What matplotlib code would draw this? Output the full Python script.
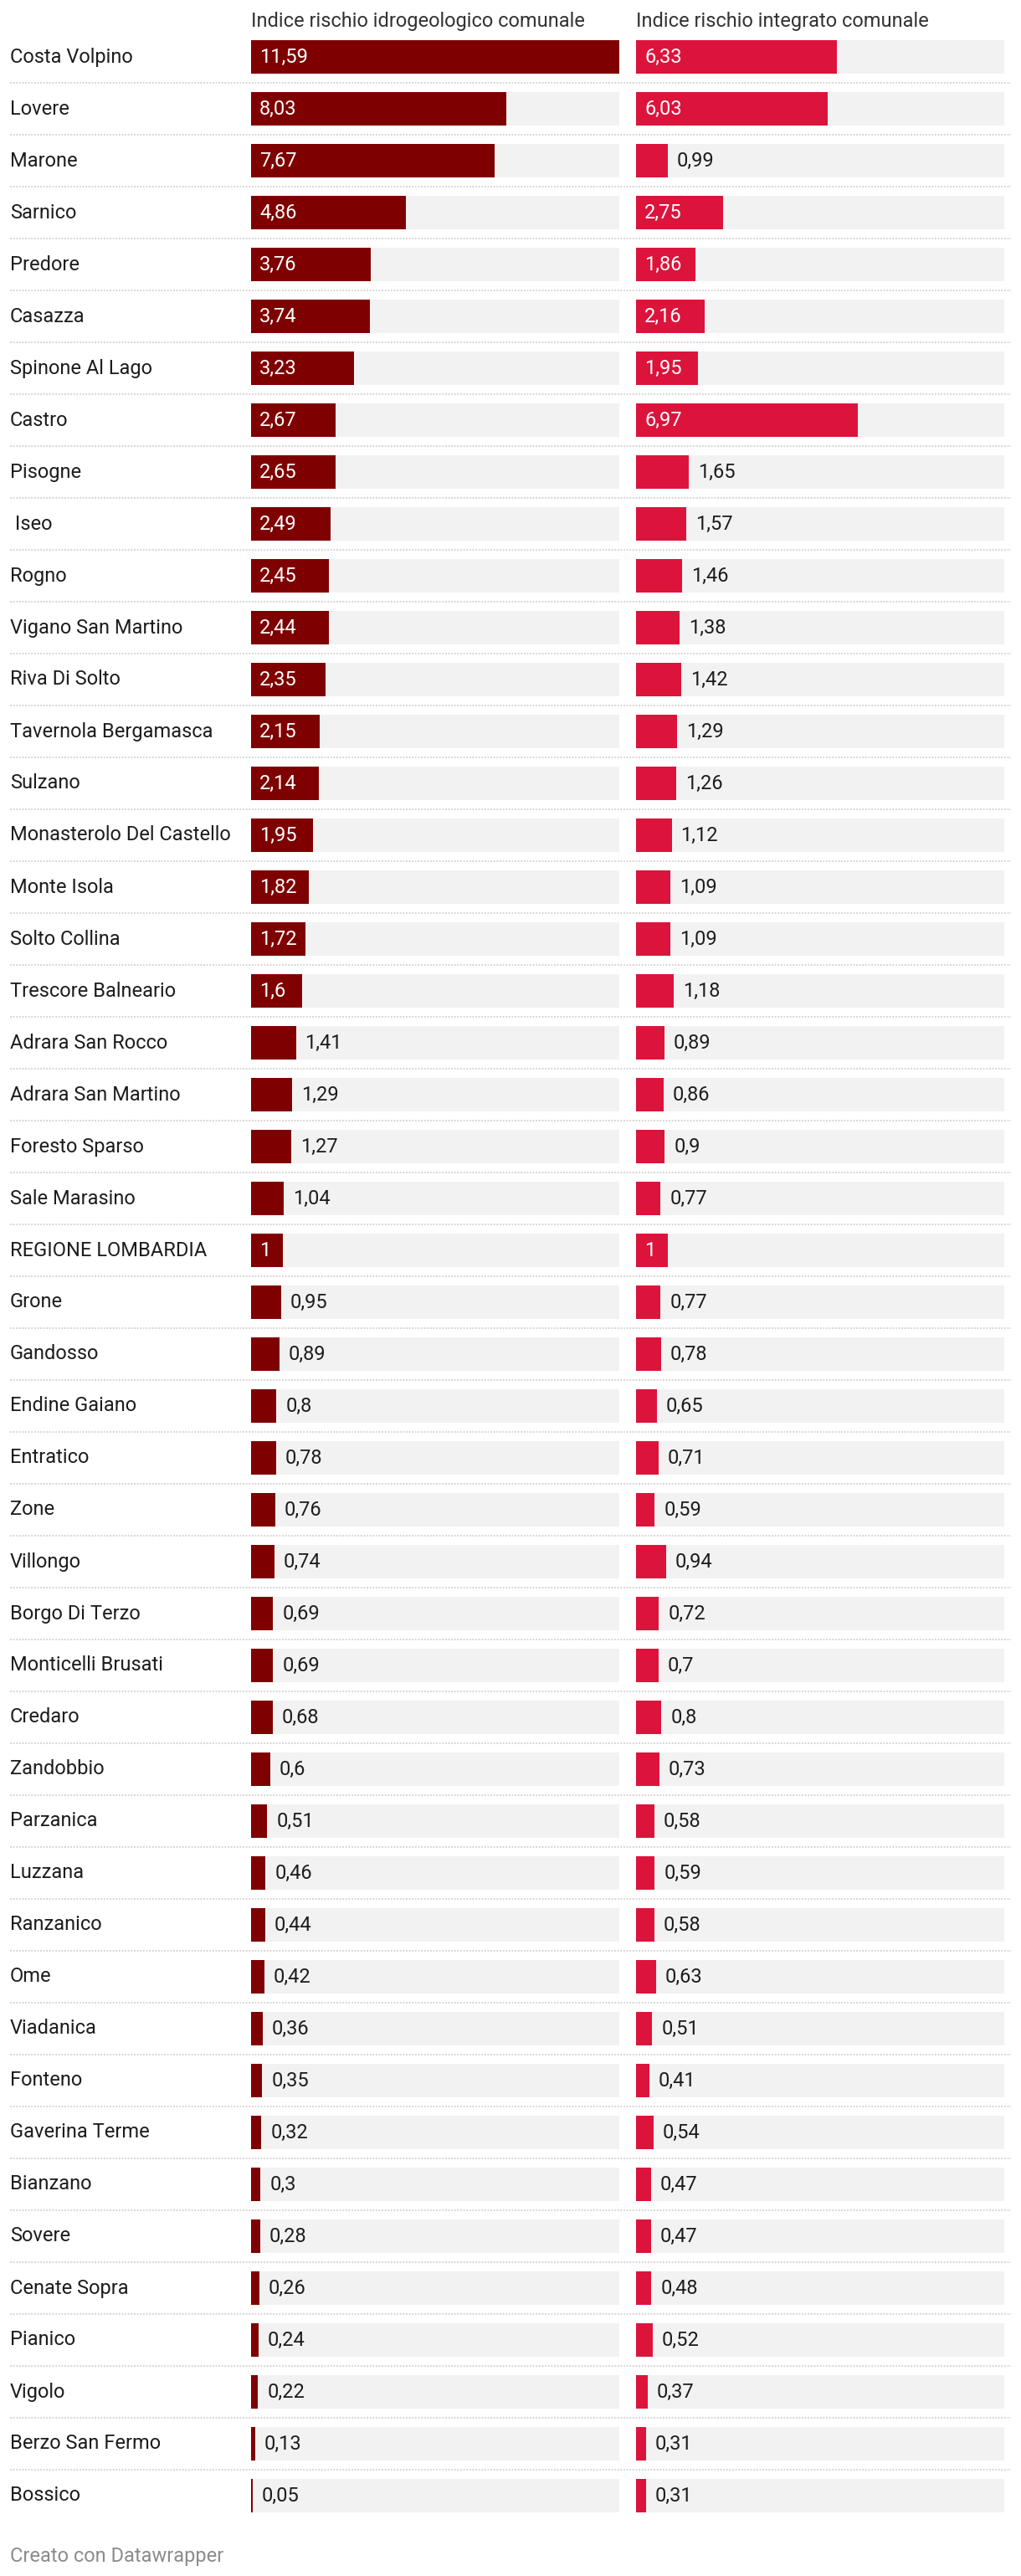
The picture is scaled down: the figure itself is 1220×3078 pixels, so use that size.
import matplotlib.pyplot as plt
from matplotlib.transforms import blended_transform_factory

comuni = ["Costa Volpino", "Lovere", "Marone", "Sarnico", "Predore", "Casazza",
          "Spinone Al Lago", "Castro", "Pisogne", " Iseo", "Rogno",
          "Vigano San Martino", "Riva Di Solto", "Tavernola Bergamasca", "Sulzano",
          "Monasterolo Del Castello", "Monte Isola", "Solto Collina",
          "Trescore Balneario", "Adrara San Rocco", "Adrara San Martino",
          "Foresto Sparso", "Sale Marasino", "REGIONE LOMBARDIA", "Grone",
          "Gandosso", "Endine Gaiano", "Entratico", "Zone", "Villongo",
          "Borgo Di Terzo", "Monticelli Brusati", "Credaro", "Zandobbio",
          "Parzanica", "Luzzana", "Ranzanico", "Ome", "Viadanica", "Fonteno",
          "Gaverina Terme", "Bianzano", "Sovere", "Cenate Sopra", "Pianico",
          "Vigolo", "Berzo San Fermo", "Bossico"]

idrogeologico = [11.59, 8.03, 7.67, 4.86, 3.76, 3.74, 3.23, 2.67, 2.65, 2.49, 2.45,
                 2.44, 2.35, 2.15, 2.14, 1.95, 1.82, 1.72, 1.6, 1.41, 1.29, 1.27,
                 1.04, 1, 0.95, 0.89, 0.8, 0.78, 0.76, 0.74, 0.69, 0.69, 0.68, 0.6,
                 0.51, 0.46, 0.44, 0.42, 0.36, 0.35, 0.32, 0.3, 0.28, 0.26, 0.24,
                 0.22, 0.13, 0.05]

integrato = [6.33, 6.03, 0.99, 2.75, 1.86, 2.16, 1.95, 6.97, 1.65, 1.57, 1.46,
             1.38, 1.42, 1.29, 1.26, 1.12, 1.09, 1.09, 1.18, 0.89, 0.86, 0.9,
             0.77, 1, 0.77, 0.78, 0.65, 0.71, 0.59, 0.94, 0.72, 0.7, 0.8, 0.73,
             0.58, 0.59, 0.58, 0.63, 0.51, 0.41, 0.54, 0.47, 0.47, 0.48, 0.52,
             0.37, 0.31, 0.31]

titoli = ["Indice rischio idrogeologico comunale", "Indice rischio integrato comunale"]
colori = ["#7f0000", "#dc143c"]

plt.rcParams['font.family'] = ['Roboto', 'DejaVu Sans']

W, H = 1220, 3078
fig = plt.figure(figsize=(W / 100, H / 100), dpi=100)
fig.patch.set_facecolor('white')

n = len(comuni)
pitch = 62
top = 37  # pixel top of first row slot
xmax = max(idrogeologico)
FS = 17
TXT = '#1d1d1d'


def px_axes(x0, x1):
    return [x0 / W, 1 - (top + n * pitch) / H, (x1 - x0) / W, n * pitch / H]


axes = [fig.add_axes(px_axes(300, 740)), fig.add_axes(px_axes(760, 1200))]
pos = list(range(n))

for ax, vals, col, tit in zip(axes, [idrogeologico, integrato], colori, titoli):
    ax.set_xlim(0, xmax)
    ax.set_ylim(n - 0.5, -0.5)
    ax.axis('off')
    ax.barh(pos, [xmax] * n, height=40 / pitch, color='#f2f2f2', zorder=1)
    ax.barh(pos, vals, height=40 / pitch, color=col, zorder=2)
    ax.text(0, -0.5, tit, fontsize=FS, color='#333333',
            va='bottom', ha='left', clip_on=False)

fig.canvas.draw()
renderer = fig.canvas.get_renderer()

# value labels: inside the bar if it fits, otherwise just after it
for ax, vals in zip(axes, [idrogeologico, integrato]):
    ppx = 440 / xmax  # pixels per unit
    for i, v in enumerate(vals):
        s = f"{v:g}".replace('.', ',')
        t = ax.text(0, i, s, fontsize=FS, va='center', ha='left', zorder=3)
        tw = t.get_window_extent(renderer).width
        if v * ppx > tw + 20:
            t.set_position((10 / ppx, i))
            t.set_color('white')
        else:
            t.set_position((v + 11 / ppx, i))
            t.set_color(TXT)

ax0 = axes[0]
tr = blended_transform_factory(fig.transFigure, ax0.transData)
for i, name in enumerate(comuni):
    ax0.text(12 / W, i, name, transform=tr, fontsize=FS, color=TXT,
             va='center', ha='left', clip_on=False)

for i in range(n - 1):
    ax0.plot([12 / W, 1208 / W], [i + 0.5, i + 0.5], transform=tr,
             color='#d0d0d0', lw=1.3, linestyle=(0, (1, 1)), clip_on=False)

fig.text(12 / W, 1 - 3055 / H, "Creato con Datawrapper", fontsize=FS,
         color='#8c8c8c', va='center', ha='left')

fig.savefig('out.png', dpi=100, facecolor='white')
